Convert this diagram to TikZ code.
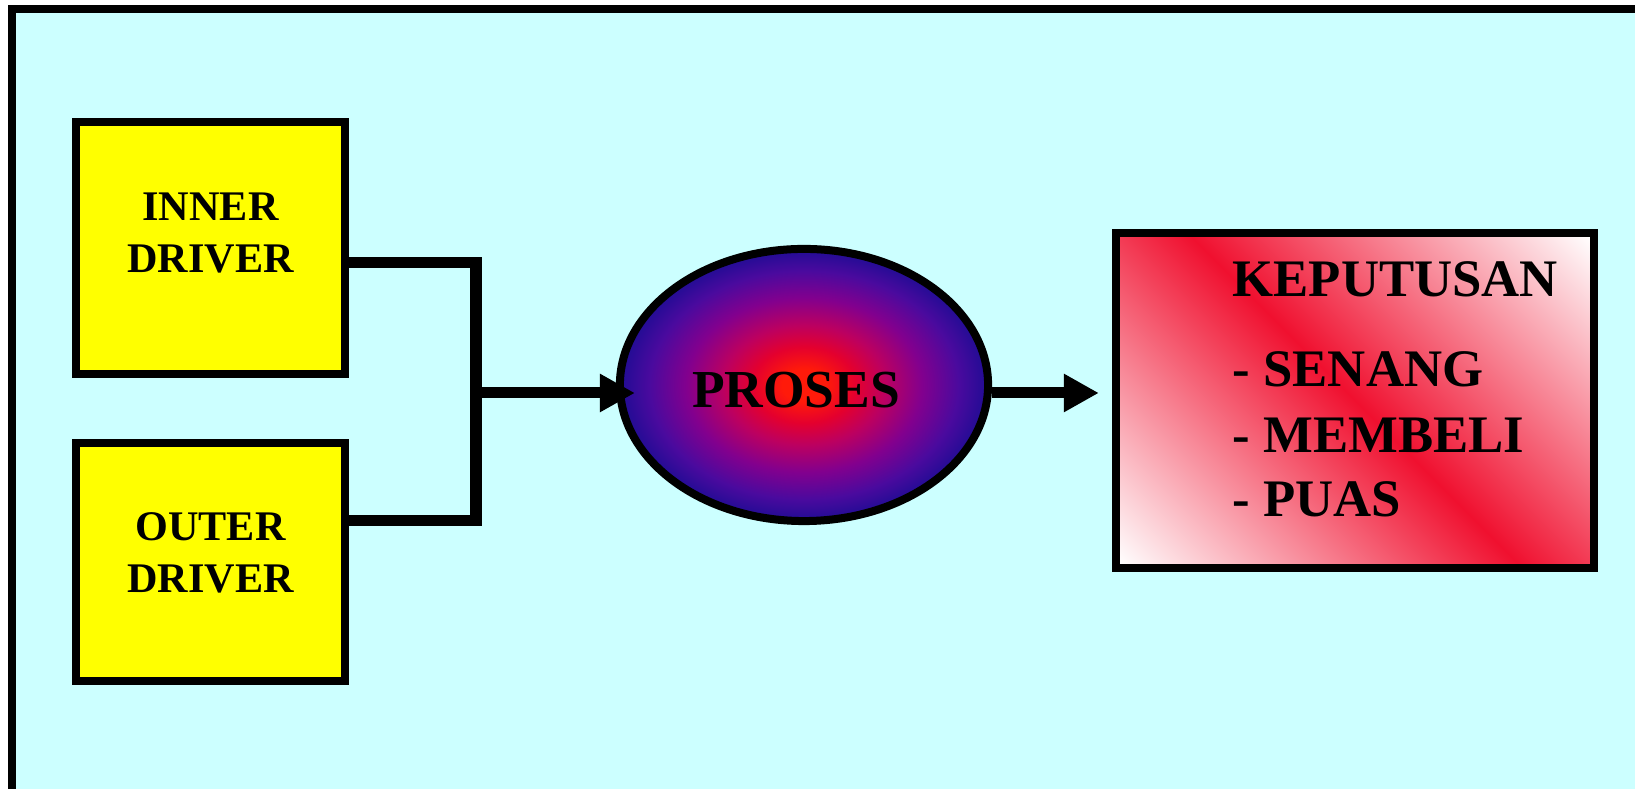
\documentclass[tikz,border=0pt]{standalone}
\usepackage{fontspec}
\setmainfont{Liberation Serif}
\usetikzlibrary{shapes.geometric,arrows.meta,shadings}
\definecolor{sky}{HTML}{CCFFFF}
\definecolor{driver}{HTML}{FFFF00}
\definecolor{crimson}{HTML}{F0102F}
\definecolor{core}{HTML}{FF1A0A}
\definecolor{hot}{HTML}{E4002E}
\definecolor{rose}{HTML}{BC0060}
\definecolor{plum}{HTML}{82008E}
\definecolor{indigo}{HTML}{4A0A9E}
\definecolor{deepblue}{HTML}{200C94}

% glowing centre of the process ellipse
\pgfdeclareradialshading{prosesglow}{\pgfpoint{0bp}{0bp}}{color(0bp)=(core); color(3bp)=(core);
  color(7bp)=(hot); color(11bp)=(rose); color(16bp)=(plum); color(21bp)=(indigo);
  color(25bp)=(deepblue); color(50bp)=(deepblue)}
% white - red - white band across the result box
\pgfdeclareverticalshading{verdictband}{100bp}{color(0bp)=(white); color(15bp)=(white);
  color(50bp)=(crimson); color(85bp)=(white); color(100bp)=(white)}

\begin{document}
\begin{tikzpicture}[x=0.01cm,y=-0.01cm,line join=miter,
  driverbox/.style={draw,line width=0.8mm,fill=driver,minimum width=2.69cm,align=center,
    font=\fontsize{12pt}{14.8pt}\selectfont\bfseries},
  listtext/.style={anchor=base west,inner sep=0pt,font=\fontsize{15pt}{18pt}\selectfont\bfseries},
  link/.style={line width=1.1mm},
  arrowlink/.style={link,-{Triangle[length=3.5mm,width=3.6mm]}}]
  % canvas 1635 x 789, y runs downwards
  \useasboundingbox (0,0) rectangle (1635,789);
  \clip (0,0) rectangle (1635,789);
  \fill[white] (0,0) rectangle (1635,789);
  % slide frame (runs off the right and bottom)
  \draw[line width=0.8mm,fill=sky] (12,9) rectangle (1700,900);

  % ---- drivers ----
  \node[driverbox,minimum height=2.52cm,text depth=3mm] (inner) at (210.5,248) {INNER\\DRIVER};
  \node[driverbox,minimum height=2.38cm,text depth=1.8mm] (outer) at (210.5,562) {OUTER\\DRIVER};

  % ---- process ----
  \node[ellipse,draw,line width=0.8mm,minimum width=3.68cm,minimum height=2.72cm,
    shading=prosesglow] (proses) at (804,385) {};
  \node[inner sep=0pt,font=\fontsize{15.2pt}{18pt}\selectfont\bfseries] (proses-label) at (796,390) {PROSES};

  % ---- result ----
  \node[draw,line width=0.8mm,minimum width=4.78cm,minimum height=3.35cm,
    shading=verdictband,shading angle=-45] (result) at (1355,400.5) {};
  \node[listtext] (heading) at (1232,297) {KEPUTUSAN};
  \foreach \word/\yy in {SENANG/387,MEMBELI/453,PUAS/517}{
    \node[listtext] (item-\word) at (1232,\yy) {- \word};
  }

  % ---- connectors ----
  \coordinate (fork) at (476,393);
  \draw[link] ([yshift=-1.5mm]inner.east) -| (fork) |- ([yshift=4.1mm]outer.east);
  \draw[arrowlink,shorten >=-1.9mm] (fork) -- (fork -| proses.west);
  \draw[arrowlink,shorten >=1.3mm] (fork -| proses.east) -- (fork -| result.west);
\end{tikzpicture}
\end{document}
